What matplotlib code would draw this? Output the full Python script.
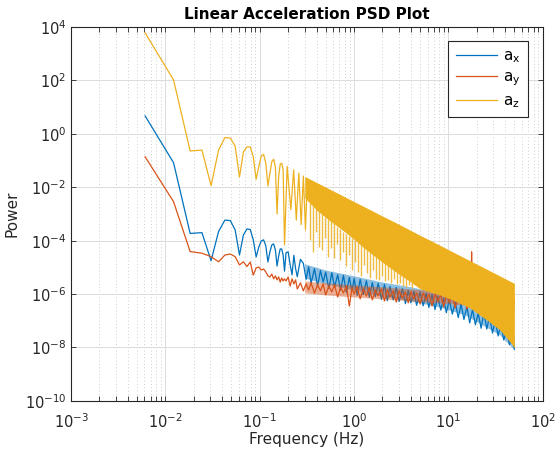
import numpy as np
import matplotlib
matplotlib.use('Agg')
import matplotlib.pyplot as plt
from matplotlib.ticker import LogLocator, NullFormatter, NullLocator

# Werte, Leistung jeweils als log10

# einzelne FFT-Bins bei tiefen Frequenzen (Hz)
freq_bins = [0.0061, 0.0122, 0.0183, 0.0244, 0.0305, 0.0366, 0.0427, 0.0488, 0.0549, 0.0610,
             0.0671, 0.0732, 0.0793, 0.0854, 0.0916, 0.0977, 0.1038, 0.1099, 0.1160, 0.1221,
             0.1282, 0.1343, 0.1404, 0.1465, 0.1526, 0.1587, 0.1648, 0.1709, 0.1770, 0.1831]
ax_bins_log = [0.67, -1.08, -3.73, -3.70, -4.75, -3.66, -3.23, -3.25, -3.60, -4.54,
               -3.79, -3.56, -3.58, -3.97, -4.61, -4.24, -4.01, -3.97, -4.20, -4.80,
               -4.42, -4.16, -4.12, -4.35, -4.95, -4.57, -4.31, -4.31, -4.54, -5.14]
ay_bins_log = [-0.86, -2.54, -4.41, -4.47, -4.60, -4.79, -4.54, -4.50, -4.60, -4.91,
               -4.79, -4.97, -4.80, -5.29, -5.02, -4.99, -5.10, -5.06, -5.17, -5.32,
               -5.36, -5.25, -5.43, -5.32, -5.47, -5.36, -5.55, -5.40, -5.51, -5.43]
az_bins_log = [3.78, 2.02, -0.64, -0.61, -1.94, -0.61, -0.14, -0.16, -0.46, -1.62,
               -0.68, -0.49, -0.49, -0.85, -1.70, -1.23, -0.83, -0.77, -1.10, -1.95,
               -1.48, -1.04, -0.95, -1.23, -3.00, -1.60, -1.13, -1.10, -1.35, -4.16]

# a_x: verrauschter Teil ab 0.19 Hz
noise_freq = [0.19, 0.2, 0.21, 0.22, 0.23, 0.24, 0.25, 0.27, 0.29, 0.31,
              0.33, 0.35, 0.38, 0.41, 0.44, 0.47, 0.5, 0.54, 0.58, 0.62,
              0.67, 0.72, 0.77, 0.83, 0.89, 0.95, 1.0, 1.08, 1.16, 1.25,
              1.35, 1.45, 1.56, 1.68, 1.8, 1.95, 2.1, 2.25, 2.4, 2.6,
              2.8, 3.0, 3.25, 3.5, 3.75, 4.0, 4.3, 4.6, 5.0, 5.4,
              5.8, 6.2, 6.7, 7.2, 7.7, 8.3, 8.9, 9.5, 10.2, 11.0,
              11.8, 12.7, 13.6, 14.6, 15.7, 16.8, 18.0, 19.3, 20.7, 22.2,
              23.8, 25.5, 27.3, 29.3, 31.4, 33.6, 36.0, 38.6, 41.4, 44.3,
              47.5, 50.0]
ax_noise_log = [-4.45, -4.42, -4.90, -5.28, -4.55, -5.05, -5.35, -4.70, -4.85, -5.45,
                -4.98, -5.60, -5.05, -5.70, -5.12, -5.55, -5.18, -5.80, -5.20, -5.74,
                -5.28, -5.86, -5.30, -5.95, -5.38, -5.90, -5.42, -6.05, -5.45, -6.02,
                -5.50, -6.12, -5.57, -6.10, -5.60, -6.20, -5.64, -6.25, -5.72, -6.22,
                -5.75, -6.28, -5.80, -6.36, -5.86, -6.33, -5.90, -6.42, -5.93, -6.44,
                -5.98, -6.50, -6.02, -6.58, -6.08, -6.60, -6.16, -6.70, -6.21, -6.75,
                -6.30, -6.88, -6.38, -6.95, -6.47, -7.08, -6.58, -7.15, -6.72, -7.28,
                -6.67, -7.31, -6.82, -7.46, -6.97, -7.57, -7.12, -7.72, -7.31, -7.90,
                -7.57, -8.06]

# a_y: verrauschter Teil ab 0.19 Hz, mit Spitze bei ca. 17.6 Hz
ay_noise_freq = [0.19, 0.2, 0.21, 0.22, 0.23, 0.24, 0.25, 0.27, 0.29, 0.31,
                 0.33, 0.35, 0.38, 0.41, 0.44, 0.47, 0.5, 0.54, 0.58, 0.62,
                 0.67, 0.72, 0.77, 0.83, 0.89, 0.95, 1.0, 1.08, 1.16, 1.25,
                 1.35, 1.45, 1.56, 1.68, 1.8, 1.95, 2.1, 2.25, 2.4, 2.6,
                 2.8, 3.0, 3.25, 3.5, 3.75, 4.0, 4.3, 4.6, 5.0, 5.4,
                 5.8, 6.2, 6.7, 7.2, 7.7, 8.3, 8.9, 9.5, 10.2, 11.0,
                 11.8, 12.7, 13.6, 14.6, 15.7, 16.8, 17.4, 17.6, 17.8, 18.0,
                 19.3, 20.7, 22.2, 23.8, 25.5, 27.3, 29.3, 31.4, 33.6, 36.0,
                 38.6, 41.4, 44.3, 47.5, 50.0]
ay_noise_log = [-5.51, -5.36, -5.70, -5.43, -5.62, -5.47, -5.81, -5.58, -5.88, -5.62,
                -5.85, -5.58, -5.96, -5.66, -5.88, -5.62, -6.03, -5.70, -5.92, -5.66,
                -6.11, -5.73, -5.96, -5.70, -6.45, -5.77, -6.00, -5.73, -6.18, -5.81,
                -6.07, -5.77, -6.22, -5.85, -6.07, -5.81, -6.26, -5.85, -6.11, -5.88,
                -6.30, -5.88, -6.15, -5.92, -6.33, -5.92, -6.18, -5.96, -6.37, -5.96,
                -6.22, -6.00, -6.45, -6.00, -6.26, -6.03, -6.48, -6.03, -6.30, -6.07,
                -6.52, -6.07, -6.33, -6.11, -6.56, -6.11, -6.15, -4.42, -6.20, -6.18,
                -6.15, -6.41, -6.15, -6.45, -6.18, -6.41, -6.18, -6.45, -6.22, -6.48,
                -6.22, -6.48, -6.26, -6.52, -6.30]

# Rauschbänder von a_x und a_y (obere / untere Kante)
noise_band_freq = [0.3, 0.5, 1.0, 2.0, 4.0, 8.0, 15.0, 25.0, 35.0, 50.0]
ax_band_upper_log = [-4.87, -5.10, -5.32, -5.55, -5.73, -5.96, -6.26, -6.71, -7.01, -7.57]
ax_band_lower_log = [-5.40, -5.62, -5.85, -6.07, -6.26, -6.48, -6.78, -7.23, -7.53, -8.09]
ay_band_upper_log = [-5.51, -5.58, -5.66, -5.73, -5.81, -5.88, -5.96, -6.03, -6.07, -6.11]
ay_band_lower_log = [-5.96, -6.03, -6.11, -6.18, -6.26, -6.33, -6.41, -6.48, -6.52, -6.56]

# a_z: Maxima und Nullstellen bis ca. 0.32 Hz
az_mid_freq = [0.1953, 0.2136, 0.2289, 0.2441, 0.2594, 0.2747, 0.2899, 0.3052, 0.3204]
az_mid_log = [-1.22, -2.84, -1.35, -3.23, -1.47, -3.40, -1.58, -3.59, -1.68]

# a_z: dichtes Band ab 0.3 Hz (obere / untere Kante)
az_band_freq = [0.3, 0.4, 0.55, 0.75, 1.0, 1.25, 1.9, 2.85, 4.0, 5.0,
                6.35, 8.1, 11.1, 16.9, 25.5, 35.0, 46.9, 50.0]
az_band_upper_log = [-1.60, -1.82, -2.07, -2.31, -2.54, -2.71, -3.04, -3.35, -3.62, -3.80,
                     -3.98, -4.17, -4.42, -4.75, -5.07, -5.32, -5.55, -5.60]
az_band_lower_log = [-2.40, -2.85, -3.25, -3.60, -3.95, -4.25, -4.75, -5.20, -5.55, -5.80,
                     -5.92, -6.03, -6.22, -6.52, -6.97, -7.34, -7.87, -8.02]

# a_z: Einbrüche unterhalb des Bandes
az_dip_freq = [0.340, 0.366, 0.394, 0.424, 0.456, 0.491, 0.528, 0.568, 0.611, 0.657,
               0.707, 0.761, 0.819, 0.881, 0.948, 1.020, 1.097, 1.180, 1.270, 1.366,
               1.470, 1.582, 1.702, 1.831, 1.970, 2.120, 2.281, 2.454, 2.641, 2.841,
               3.057, 3.289, 3.539, 3.808, 4.097]
az_dip_top_log = [-2.60, -2.70, -2.80, -2.90, -3.00, -3.10, -3.18, -3.28, -3.38, -3.48,
                  -3.56, -3.66, -3.74, -3.82, -3.90, -3.98, -4.06, -4.16, -4.24, -4.32,
                  -4.42, -4.50, -4.58, -4.66, -4.74, -4.82, -4.92, -5.00, -5.08, -5.16,
                  -5.24, -5.32, -5.40, -5.48, -5.56]
az_dip_bottom_log = [-3.98, -4.42, -3.68, -4.24, -4.35, -3.90, -4.61, -4.27, -4.65, -4.12,
                     -4.72, -4.42, -4.95, -4.54, -5.10, -4.80, -5.17, -5.32, -4.91, -5.21,
                     -5.40, -5.10, -5.43, -5.47, -5.32, -5.51, -5.47, -5.58, -5.43, -5.62,
                     -5.58, -5.70, -5.73, -5.66, -5.77]

col_x = '#0072BD'
col_y = '#D95319'
col_z = '#EDB120'
dark = '#262626'

fig, ax = plt.subplots(figsize=(5.55, 4.54), dpi=100)
fig.subplots_adjust(left=0.128, right=0.978, bottom=0.117, top=0.9405)

# a_x
ax.fill_between(noise_band_freq, 10.0 ** np.array(ax_band_lower_log),
                10.0 ** np.array(ax_band_upper_log), color=col_x, lw=0, alpha=0.45, zorder=2)
ax.plot(freq_bins + noise_freq, 10.0 ** np.array(ax_bins_log + ax_noise_log),
        color=col_x, lw=0.9, label=r'a$_\mathregular{x}$', zorder=2.1)
# a_y
ax.fill_between(noise_band_freq, 10.0 ** np.array(ay_band_lower_log),
                10.0 ** np.array(ay_band_upper_log), color=col_y, lw=0, alpha=0.45, zorder=2.2)
ax.plot(freq_bins + ay_noise_freq, 10.0 ** np.array(ay_bins_log + ay_noise_log),
        color=col_y, lw=0.9, label=r'a$_\mathregular{y}$', zorder=2.3)
# a_z
ax.plot(freq_bins + az_mid_freq, 10.0 ** np.array(az_bins_log + az_mid_log),
        color=col_z, lw=0.9, label=r'a$_\mathregular{z}$', zorder=3)
ax.fill_between(az_band_freq, 10.0 ** np.array(az_band_lower_log),
                10.0 ** np.array(az_band_upper_log), color=col_z, lw=0, zorder=3)
ax.vlines(az_dip_freq, 10.0 ** np.array(az_dip_bottom_log), 10.0 ** np.array(az_dip_top_log),
          color=col_z, lw=1.0, alpha=0.85, zorder=3)

ax.set_xscale('log')
ax.set_yscale('log')
ax.set_xlim(1e-3, 1e2)
ax.set_ylim(1e-10, 1e4)
ax.set_yticks([10.0 ** e for e in range(-10, 5, 2)])
ax.yaxis.set_minor_locator(NullLocator())
ax.xaxis.set_major_locator(LogLocator(base=10, numticks=10))
ax.xaxis.set_minor_locator(LogLocator(base=10, subs=np.arange(2, 10), numticks=20))
ax.xaxis.set_minor_formatter(NullFormatter())

ax.set_axisbelow(True)
ax.grid(True, which='major', color='#dcdcdc', lw=0.7, ls='-')
ax.grid(True, which='minor', axis='x', color='#bdbdbd', lw=0.6, ls=(0, (1, 3)))

ax.tick_params(which='both', direction='in', top=True, right=True, colors=dark,
               labelsize=10.5, length=3.4, width=0.6)
ax.tick_params(axis='x', which='both', pad=8)
for s in ax.spines.values():
    s.set_color(dark)
    s.set_linewidth(0.8)

ax.set_xlabel('Frequency (Hz)', fontsize=11, color=dark, labelpad=1)
ax.set_ylabel('Power', fontsize=11, color=dark)
ax.set_title('Linear Acceleration PSD Plot', fontsize=11, fontweight='bold', pad=6)

leg = ax.legend(loc='upper right', bbox_to_anchor=(0.968, 0.963), fontsize=11,
                handlelength=2.7, handletextpad=0.35, labelspacing=0.3, borderpad=0.5,
                fancybox=False, framealpha=1, edgecolor=dark, borderaxespad=0)
leg.get_frame().set_linewidth(0.8)
leg.set_zorder(5)

plt.savefig('out.png', dpi=100)
plt.close()
